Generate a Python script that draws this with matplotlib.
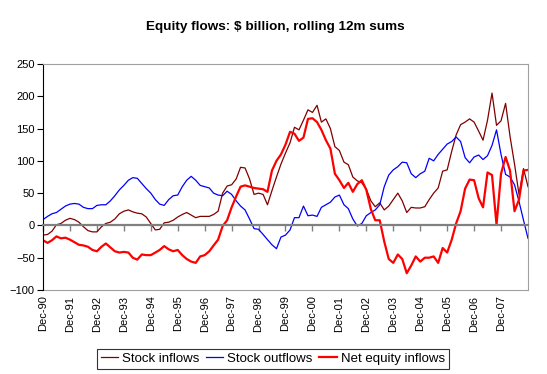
import matplotlib
matplotlib.use('Agg')
import matplotlib.pyplot as plt
import matplotlib.dates as mdates
import pandas as pd

# rolling 12m sums, $ billion, read every 2 months from Dec-90 to Dec-08
datas = pd.date_range('1990-12-01', periods=109, freq='2MS')

stock_inflows = [
    -15, -14, -9, 1, 3, 8, 11, 9, 5, -2, -8, -10, -10, -2, 3, 5, 10, 18, 22, 24,
    21, 19, 18, 13, 3, -7, -6, 4, 5, 8, 13, 17, 20, 16, 12, 14, 14, 14, 17, 22,
    50, 61, 63, 72, 90, 89, 72, 48, 50, 48, 32, 54, 75, 95, 112, 128, 152, 148, 163, 179,
    175, 186, 160, 165, 150, 122, 116, 98, 94, 75, 69, 66, 56, 38, 29, 35, 24, 30, 40, 50,
    38, 20, 28, 27, 27, 29, 40, 50, 58, 84, 86, 115, 140, 156, 160, 165, 160, 146, 132, 163,
    205, 155, 162, 189, 138, 95, 48, 88, 60,
]

stock_outflows = [
    9, 14, 18, 20, 25, 30, 33, 34, 33, 28, 26, 26, 31, 32, 32, 38, 46, 55, 62, 70,
    74, 73, 65, 57, 50, 40, 33, 31, 40, 46, 47, 60, 70, 76, 70, 62, 60, 58, 50, 47,
    46, 53, 48, 38, 30, 24, 10, -5, -6, -14, -22, -30, -36, -18, -15, -7, 12, 12, 30, 15,
    16, 14, 28, 32, 36, 44, 47, 32, 26, 10, -1, 3, 15, 20, 24, 32, 60, 78, 86, 91,
    98, 97, 80, 74, 80, 84, 104, 100, 110, 118, 126, 130, 137, 130, 105, 97, 106, 109, 102, 108,
    124, 148, 110, 79, 75, 63, 37, 8, -20,
]

net_equity_inflows = [
    -23, -27, -23, -17, -20, -19, -22, -26, -30, -31, -33, -38, -40, -33, -28, -34, -40, -42, -41, -42,
    -50, -53, -45, -46, -46, -42, -38, -32, -37, -40, -38, -46, -52, -56, -58, -48, -46, -40, -31, -22,
    -1, 8, 28, 45, 60, 62, 60, 58, 57, 56, 52, 85, 100, 110, 125, 145, 142, 131, 136, 165,
    166, 160, 148, 132, 119, 80, 70, 58, 66, 52, 64, 70, 55, 25, 8, 8, -25, -52, -58, -45,
    -52, -74, -62, -48, -56, -50, -50, -48, -58, -35, -42, -22, 3, 22, 57, 71, 70, 42, 28, 82,
    78, 1, 80, 106, 85, 22, 40, 85, 86,
]

anos_ticks = pd.date_range('1990-12-01', '2007-12-01', freq='12MS')
rotulos = [d.strftime('%b-%y') for d in anos_ticks]

plt.rcParams['font.family'] = ['Liberation Sans', 'DejaVu Sans']

fig = plt.figure(figsize=(5.47, 3.74), dpi=100)
ax = fig.add_axes([0.0786, 0.2246, 0.8867, 0.6043])

ax.plot(datas, stock_inflows, color='#800000', lw=0.9, label='Stock inflows')
ax.plot(datas, stock_outflows, color='#0000FF', lw=0.9, label='Stock outflows')
ax.plot(datas, net_equity_inflows, color='#FF0000', lw=1.6, label='Net equity inflows')

ax.set_xlim(pd.Timestamp('1990-12-01'), pd.Timestamp('2008-12-01'))
ax.set_ylim(-100, 250)
ax.set_yticks(range(-100, 251, 50))
ax.tick_params(axis='y', labelsize=8, length=4, direction='out', color='black', pad=2)

# eixo das categorias passa pelo zero, rótulos em baixo
ax.spines['bottom'].set_position(('data', 0))
ax.spines['bottom'].set_color('#808080')
ax.spines['bottom'].set_linewidth(1.6)
ax.set_xticks(mdates.date2num(anos_ticks))
ax.tick_params(axis='x', labelbottom=False, length=4, width=1, color='#808080', direction='out')
for lado in ['top', 'right']:
    ax.spines[lado].set_color('#a0a0a0')
ax.spines['left'].set_color('black')

sec = ax.secondary_xaxis('bottom')
sec.set_xticks(mdates.date2num(anos_ticks), rotulos, rotation=90)
sec.tick_params(length=0, labelsize=8, pad=4)
sec.spines['bottom'].set_color('#a0a0a0')

fig.text(0.503, 0.927, 'Equity flows: $ billion, rolling 12m sums',
         ha='center', va='center', fontsize=9.7, fontweight='bold')

leg = fig.legend(loc='center', bbox_to_anchor=(0.499, 0.041), ncol=3, fontsize=9.5,
                 frameon=True, fancybox=False, edgecolor='black', handlelength=1.3,
                 handletextpad=0.3, columnspacing=0.5, borderpad=0.3)
leg.get_frame().set_linewidth(0.8)

plt.savefig('out.png', dpi=100)
